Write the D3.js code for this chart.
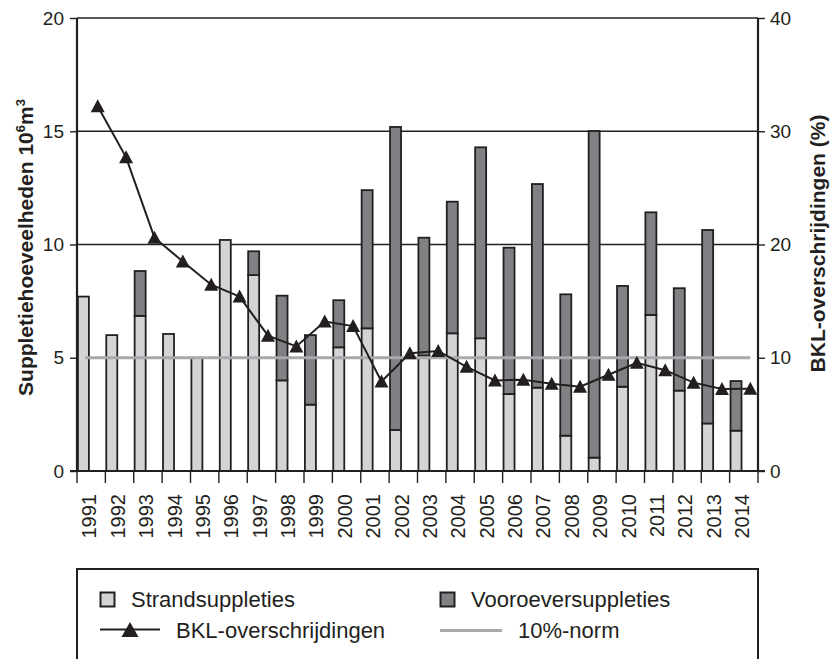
<!DOCTYPE html>
<html>
<head>
<meta charset="utf-8">
<script src="https://cdn.jsdelivr.net/npm/d3@7"></script>
<style>
  html, body { margin: 0; padding: 0; background: #ffffff; }
  svg { display: block; font-family: "Liberation Sans", Arial, Helvetica, sans-serif; }
</style>
</head>
<body>
<svg id="chart" width="834" height="659"></svg>
<script>
// ---- data ----
const years = ["1991","1992","1993","1994","1995","1996","1997","1998","1999","2000","2001","2002",
               "2003","2004","2005","2006","2007","2008","2009","2010","2011","2012","2013","2014"];
const strandsuppleties = [7.7, 6.0, 6.85, 6.05, 5.0, 10.2, 8.65, 4.0, 2.93, 5.46, 6.3, 1.81,
                          5.1, 6.08, 5.86, 3.4, 3.68, 1.56, 0.59, 3.72, 6.89, 3.55, 2.1, 1.78];
const vooroeversuppleties = [0, 0, 1.98, 0, 0, 0, 1.05, 3.74, 3.07, 2.08, 6.1, 13.38,
                             5.2, 5.81, 8.43, 6.46, 8.99, 6.24, 14.42, 4.45, 4.53, 4.52, 8.54, 2.19];
const bklOverschrijdingen = [32.2, 27.7, 20.6, 18.5, 16.45, 15.4, 11.95, 11.0, 13.2, 12.8, 7.9, 10.4,
                             10.6, 9.2, 8.0, 8.06, 7.7, 7.45, 8.5, 9.55, 8.9, 7.8, 7.24, 7.27];
const normValue = 10;
const leftTicks = [0, 5, 10, 15, 20];
const rightTicks = [0, 10, 20, 30, 40];
const gridTicks = [10, 15, 20];

// ---- styles ----
const cLight = "#d3d4d6", cDark = "#808184", cInk = "#231f20", cNorm = "#a7a9ac";

const svg = d3.select("#chart");
const L = 77, R = 758, T = 18, B = 471;

const x = d3.scaleBand().domain(years).range([L, R]).paddingInner(0).paddingOuter(0);
const step = x.step();
const yL = d3.scaleLinear().domain([0, 20]).range([B, T]);
const yR = d3.scaleLinear().domain([0, 40]).range([B, T]);

// gridlines
svg.append("g").selectAll("line").data(gridTicks).join("line")
  .attr("x1", L).attr("x2", R)
  .attr("y1", d => yL(d)).attr("y2", d => yL(d))
  .attr("stroke", cInk).attr("stroke-width", 1.4);

// bars
const barW = 11;
const barOff = 0.9;
const rows = years.map((y, i) => ({ y, s: strandsuppleties[i], v: vooroeversuppleties[i] }));
const gBars = svg.append("g");
gBars.selectAll("rect.s").data(rows).join("rect").attr("class", "s")
  .attr("x", d => x(d.y) + barOff)
  .attr("width", barW)
  .attr("y", d => yL(d.s))
  .attr("height", d => yL(0) - yL(d.s))
  .attr("fill", cLight).attr("stroke", cInk).attr("stroke-width", 1.8);
gBars.selectAll("rect.v").data(rows.filter(d => d.v > 0)).join("rect").attr("class", "v")
  .attr("x", d => x(d.y) + barOff)
  .attr("width", barW)
  .attr("y", d => yL(d.s + d.v))
  .attr("height", d => yL(d.s) - yL(d.s + d.v))
  .attr("fill", cDark).attr("stroke", cInk).attr("stroke-width", 1.8);

// norm line
svg.append("line")
  .attr("x1", x(years[0]) + 8).attr("x2", x(years[years.length - 1]) + step * 0.73)
  .attr("y1", yR(normValue)).attr("y2", yR(normValue))
  .attr("stroke", cNorm).attr("stroke-width", 3.2);

// BKL line
const lx = (d, i) => x(years[i]) + step * 0.73;
svg.append("path")
  .datum(bklOverschrijdingen)
  .attr("d", d3.line().x(lx).y(d => yR(d)))
  .attr("fill", "none").attr("stroke", cInk).attr("stroke-width", 2);
const tri = "M0,-7 L7,6 L-7,6 Z";
svg.append("g").selectAll("path").data(bklOverschrijdingen).join("path")
  .attr("d", tri)
  .attr("transform", (d, i) => `translate(${lx(d, i)},${yR(d)})`)
  .attr("fill", cInk);

// axes
const axL = svg.append("g").attr("transform", `translate(${L},0)`)
  .call(d3.axisLeft(yL).tickValues(leftTicks).tickSize(7).tickPadding(6).tickFormat(d3.format("d")));
const axR = svg.append("g").attr("transform", `translate(${R},0)`)
  .call(d3.axisRight(yR).tickValues(rightTicks).tickSize(7).tickPadding(5).tickFormat(d3.format("d")));
[axL, axR].forEach(a => {
  a.select(".domain").attr("stroke", cInk).attr("stroke-width", 2.2).attr("d", `M0,${T}V${B}`);
  a.selectAll(".tick line").attr("stroke", cInk).attr("stroke-width", 1.4);
  a.selectAll(".tick text").attr("font-size", 19).attr("fill", cInk)
    .attr("font-family", "'Liberation Sans', Arial, sans-serif");
});

// bottom axis
svg.append("line").attr("x1", L - 7).attr("x2", R + 7).attr("y1", B).attr("y2", B)
  .attr("stroke", cInk).attr("stroke-width", 2.2);
const edges = years.map(y => x(y)).concat([R]);
svg.append("g").selectAll("line").data(edges).join("line")
  .attr("x1", d => d).attr("x2", d => d).attr("y1", B).attr("y2", B + 12)
  .attr("stroke", cInk).attr("stroke-width", 1.4);
svg.append("g").selectAll("text").data(years).join("text")
  .attr("transform", d => `translate(${x(d) + step / 2 - 2},494) rotate(-90)`)
  .attr("text-anchor", "end").attr("dy", "0.36em")
  .attr("font-size", 20).attr("fill", cInk)
  .text(d => d);

// axis titles
const tl = svg.append("text")
  .attr("transform", `translate(33,${(T + B) / 2 + 3}) rotate(-90)`)
  .attr("text-anchor", "middle").attr("font-size", 21).attr("font-weight", "bold").attr("fill", cInk);
tl.append("tspan").text("Suppletiehoeveelheden 10");
tl.append("tspan").attr("font-size", 13).attr("dy", -8).text("6");
tl.append("tspan").attr("dy", 8).text("m");
tl.append("tspan").attr("font-size", 13).attr("dy", -8).text("3");

svg.append("text")
  .attr("transform", `translate(825,${(T + B) / 2 - 1}) rotate(-90)`)
  .attr("text-anchor", "middle").attr("font-size", 21).attr("font-weight", "bold").attr("fill", cInk)
  .text("BKL-overschrijdingen (%)");

// legend
const lg = svg.append("g");
lg.append("rect").attr("x", L).attr("y", 569).attr("width", R - L).attr("height", 140)
  .attr("fill", "#fff").attr("stroke", cInk).attr("stroke-width", 2);
lg.append("rect").attr("x", 100.5).attr("y", 592.5).attr("width", 14).attr("height", 14)
  .attr("fill", cLight).attr("stroke", cInk).attr("stroke-width", 2);
lg.append("text").attr("x", 131).attr("y", 607).attr("font-size", 22).attr("fill", cInk).text("Strandsuppleties");
lg.append("rect").attr("x", 440.5).attr("y", 592.5).attr("width", 14).attr("height", 14)
  .attr("fill", cDark).attr("stroke", cInk).attr("stroke-width", 2);
lg.append("text").attr("x", 471).attr("y", 607).attr("font-size", 22).attr("fill", cInk).text("Vooroeversuppleties");
lg.append("line").attr("x1", 100).attr("x2", 160).attr("y1", 629.5).attr("y2", 629.5)
  .attr("stroke", cInk).attr("stroke-width", 2);
lg.append("path").attr("d", "M0,-8 L8.5,7 L-8.5,7 Z").attr("transform", "translate(130,630)").attr("fill", cInk);
lg.append("text").attr("x", 176).attr("y", 638).attr("font-size", 22).attr("fill", cInk).text("BKL-overschrijdingen");
lg.append("line").attr("x1", 440).attr("x2", 502).attr("y1", 630.5).attr("y2", 630.5)
  .attr("stroke", cNorm).attr("stroke-width", 3.2);
lg.append("text").attr("x", 518).attr("y", 638).attr("font-size", 22).attr("fill", cInk).text("10%-norm");
</script>
</body>
</html>
